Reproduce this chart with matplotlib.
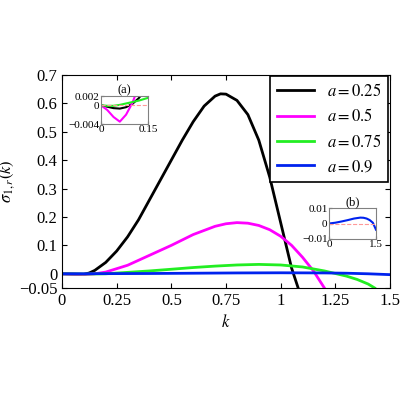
import matplotlib
matplotlib.use('Agg')
import matplotlib.pyplot as plt

plt.rcParams['font.family'] = ['Liberation Serif', 'DejaVu Serif']
plt.rcParams['mathtext.fontset'] = 'stix'

# main curves
k_black = [0, 0.05, 0.1, 0.125, 0.15, 0.2, 0.25, 0.3, 0.35, 0.4, 0.45, 0.5, 0.55, 0.6, 0.65, 0.7, 0.725, 0.75, 0.8, 0.85, 0.9, 0.95, 1.0, 1.05, 1.08]
s_black = [0, -0.001, -0.002, 0.003, 0.012, 0.04, 0.08, 0.13, 0.19, 0.26, 0.33, 0.40, 0.47, 0.535, 0.59, 0.625, 0.633, 0.632, 0.61, 0.56, 0.47, 0.34, 0.18, 0.02, -0.05]
k_mag = [0, 0.1, 0.15, 0.2, 0.3, 0.4, 0.5, 0.6, 0.7, 0.75, 0.8, 0.85, 0.9, 0.95, 1.0, 1.05, 1.1, 1.15, 1.2]
s_mag = [0, -0.003, 0.0, 0.006, 0.03, 0.065, 0.10, 0.138, 0.167, 0.176, 0.18, 0.178, 0.17, 0.155, 0.132, 0.1, 0.058, 0.01, -0.05]
k_green = [0, 0.1, 0.2, 0.3, 0.4, 0.5, 0.6, 0.7, 0.8, 0.9, 1.0, 1.1, 1.2, 1.3, 1.35, 1.4, 1.43]
s_green = [0, -0.001, 0.0, 0.005, 0.01, 0.016, 0.022, 0.027, 0.031, 0.033, 0.031, 0.024, 0.01, -0.008, -0.02, -0.036, -0.05]
k_blue = [0, 0.2, 0.4, 0.6, 0.8, 1.0, 1.2, 1.3, 1.4, 1.5]
s_blue = [0, 0.0005, 0.001, 0.002, 0.003, 0.0035, 0.003, 0.002, 0.0, -0.003]

# inset (a), small k
ka = [0, 0.02, 0.04, 0.06, 0.08, 0.1, 0.12, 0.15]
sa_black = [0, -0.0003, -0.0006, -0.0007, -0.0004, 0.0003, 0.0015, 0.004]
sa_mag = [0, -0.001, -0.0025, -0.0035, -0.002, 0.0005, 0.004, 0.01]
sa_green = [0, -0.0001, -0.0001, 0.0001, 0.0004, 0.0007, 0.001, 0.0016]

# inset (b), a = 0.9
kb = [0, 0.2, 0.4, 0.6, 0.8, 1.0, 1.1, 1.2, 1.3, 1.4, 1.5]
sb_blue = [0, 0.0005, 0.0013, 0.0022, 0.0032, 0.0038, 0.0037, 0.0032, 0.0022, 0.0005, -0.004]

fig = plt.figure(figsize=(4, 4), dpi=100)
ax = fig.add_axes([0.155, 0.28, 0.82, 0.533])
ax.plot(k_black, s_black, color='black', lw=2, label='$a=0.25$')
ax.plot(k_mag, s_mag, color='magenta', lw=2, label='$a=0.5$')
ax.plot(k_green, s_green, color='#22ee22', lw=2, label='$a=0.75$')
ax.plot(k_blue, s_blue, color='#0022ee', lw=2, label='$a=0.9$')
ax.set_xlim(0, 1.5)
ax.set_ylim(-0.05, 0.7)
ax.set_xticks([0, 0.25, 0.5, 0.75, 1, 1.25, 1.5])
ax.set_xticklabels(['0', '0.25', '0.5', '0.75', '1', '1.25', '1.5'])
ax.set_yticks([-0.05, 0, 0.1, 0.2, 0.3, 0.4, 0.5, 0.6, 0.7])
ax.set_yticklabels(['\u22120.05', '0', '0.1', '0.2', '0.3', '0.4', '0.5', '0.6', '0.7'])
ax.tick_params(direction='in', labelsize=12, top=True, right=True)
ax.set_xlabel('$k$', fontsize=12)
ax.set_ylabel(r'$\sigma_{1,r}(k)$', fontsize=12, labelpad=1)
leg = ax.legend(loc='upper right', fontsize=12, fancybox=False, edgecolor='black', framealpha=1,
                handlelength=2.2, borderaxespad=0.1)
leg.get_frame().set_linewidth(1.2)

axa = fig.add_axes([0.2525, 0.69, 0.1175, 0.07])
axa.plot(ka, sa_black, color='black', lw=1.5)
axa.plot(ka, sa_mag, color='magenta', lw=1.5)
axa.plot(ka, sa_green, color='#22ee22', lw=1.5)
axa.axhline(0, color='#ff9999', ls='--', lw=0.8)
axa.set_xlim(0, 0.15)
axa.set_ylim(-0.004, 0.002)
axa.set_xticks([0, 0.15])
axa.set_xticklabels(['0', '0.15'])
axa.set_yticks([-0.004, 0, 0.002])
axa.set_yticklabels(['\u22120.004', '0', '0.002'])
axa.tick_params(direction='in', labelsize=8, length=2, pad=1)
axa.set_title('(a)', fontsize=9, pad=2)
for s in axa.spines.values():
    s.set_color('gray')

axb = fig.add_axes([0.8225, 0.4025, 0.1175, 0.0775])
axb.plot(kb, sb_blue, color='#0022ee', lw=1.5)
axb.axhline(0, color='#ff9999', ls='--', lw=0.8)
axb.set_xlim(0, 1.5)
axb.set_ylim(-0.01, 0.01)
axb.set_xticks([0, 1.5])
axb.set_xticklabels(['0', '1.5'])
axb.set_yticks([-0.01, 0, 0.01])
axb.set_yticklabels(['\u22120.01', '0', '0.01'])
axb.tick_params(direction='in', labelsize=8, length=2, pad=1)
axb.set_title('(b)', fontsize=9, pad=2)
for s in axb.spines.values():
    s.set_color('gray')

fig.savefig('out.png', dpi=100)
